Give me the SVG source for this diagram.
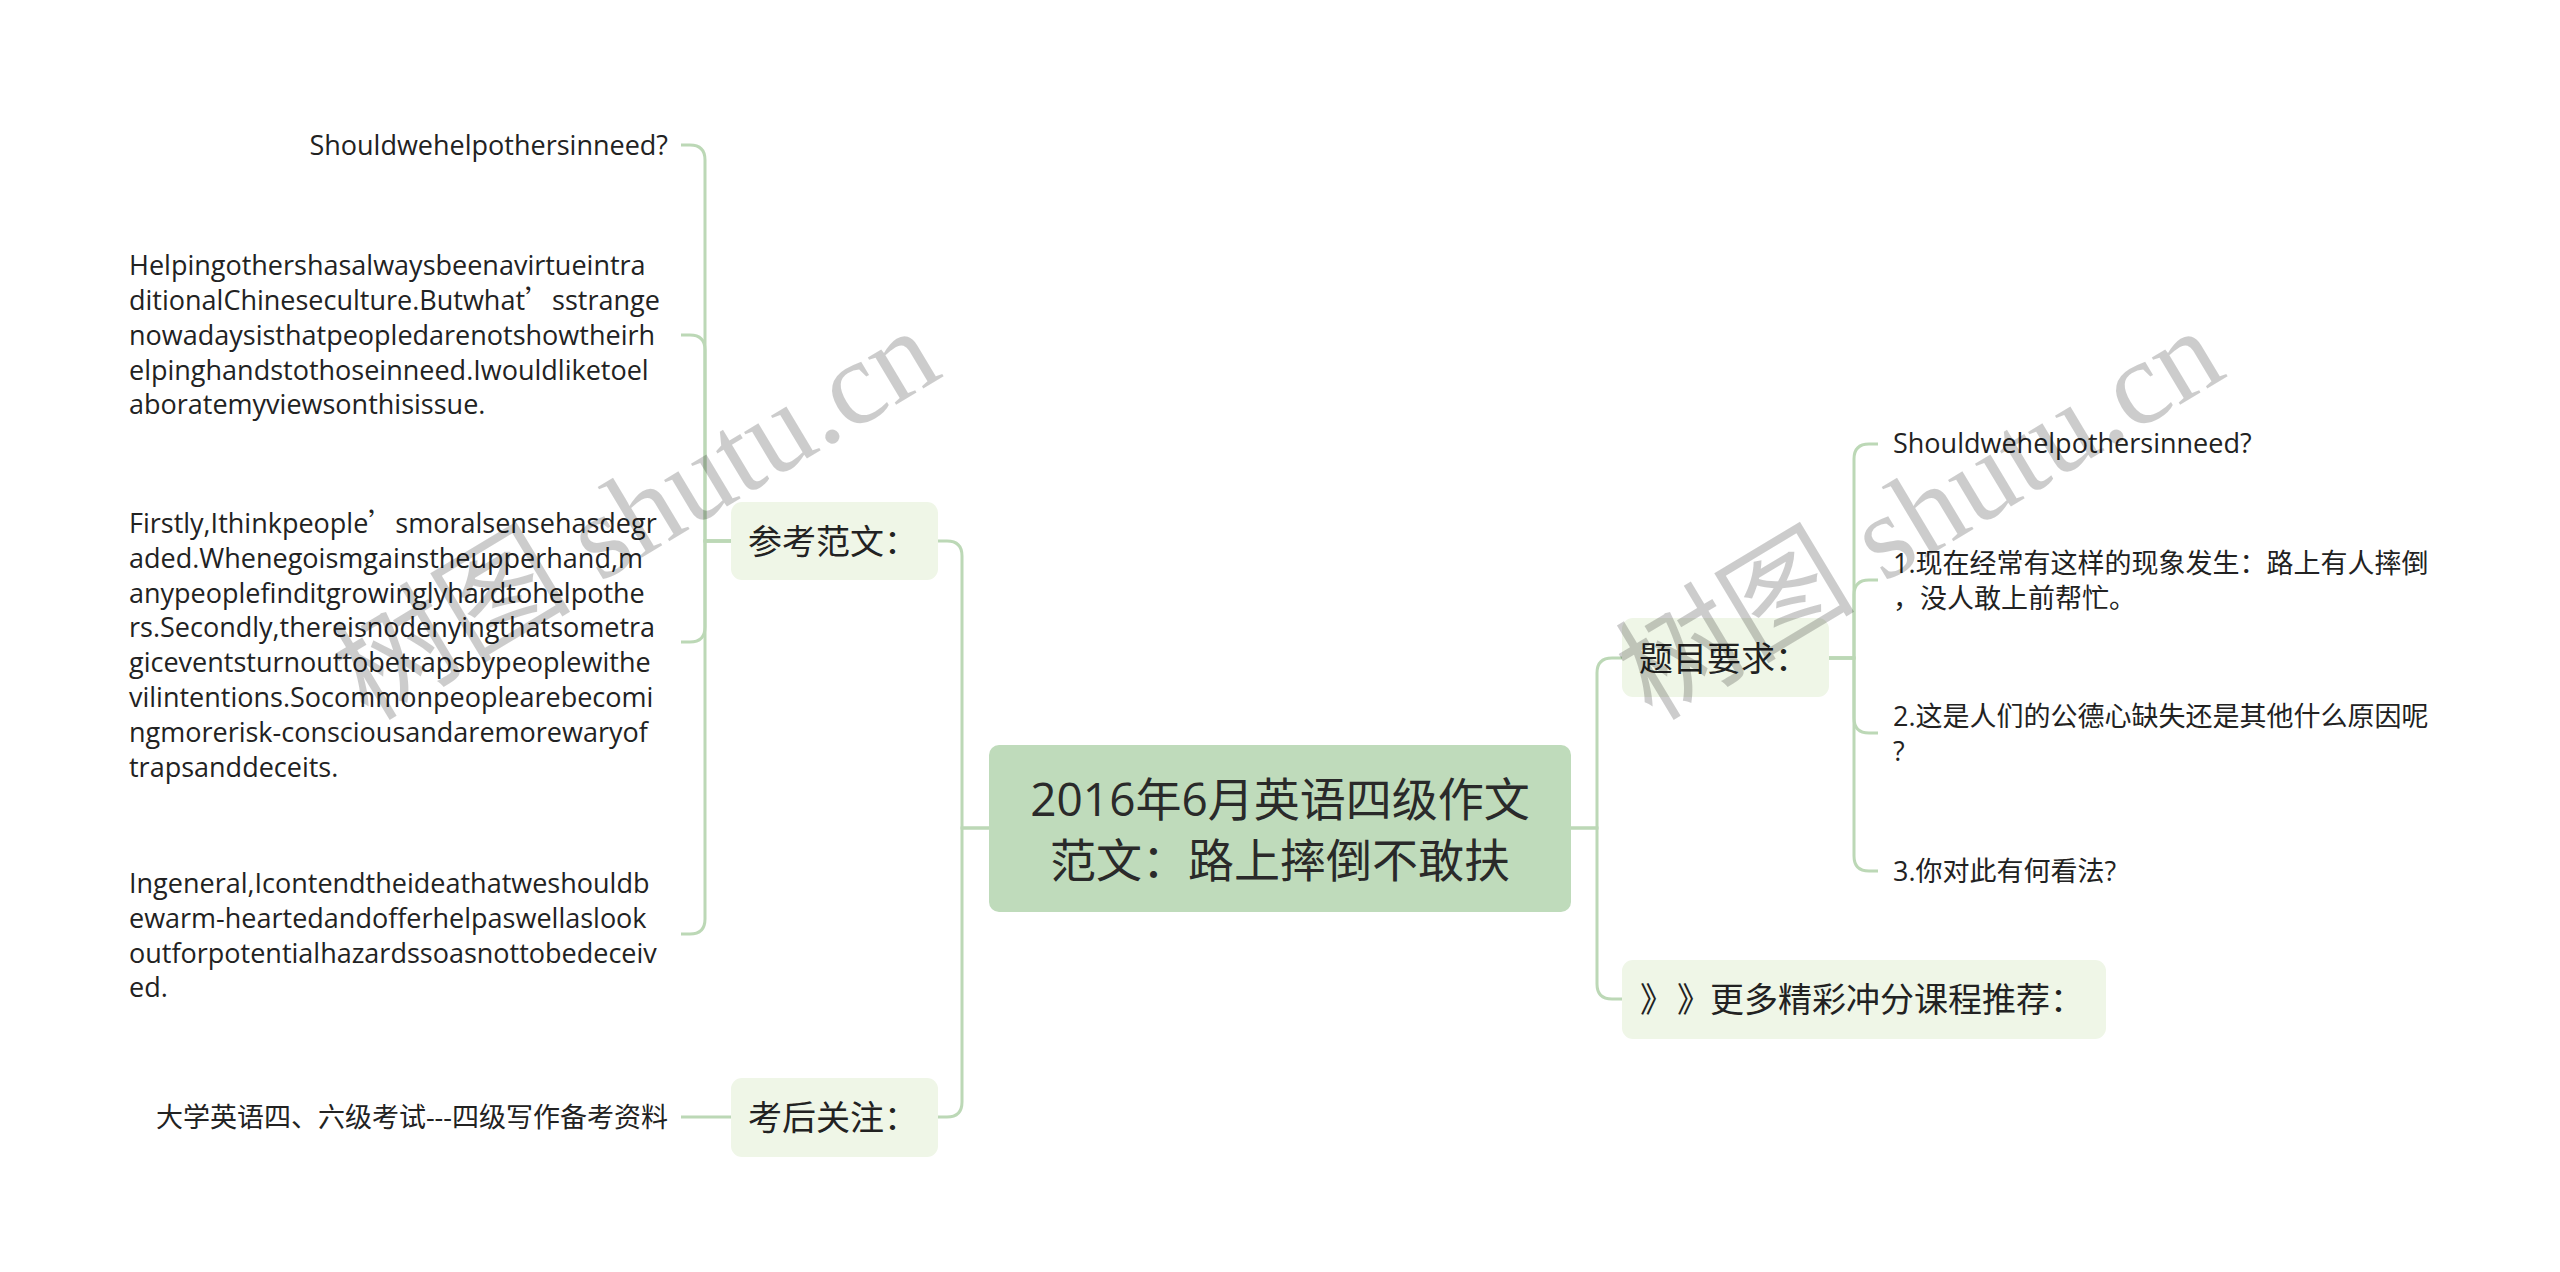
<svg xmlns="http://www.w3.org/2000/svg" width="2560" height="1272" viewBox="0 0 2560 1272">
<style>
.conn{fill:none;stroke:#bcd8b6;stroke-width:3}
.root rect{fill:#bfdbbb}
.l1 rect{fill:#eff6e7}
text{font-family:'Open Sans','Noto Sans CJK SC',sans-serif;fill:#222}
.leaf{font-size:27px}
.l1t{font-size:34px}
.roott{font-size:46px;fill:#2a2a2a}
.cjk{font-family:'Noto Sans CJK SC',sans-serif}
.wm{font-family:'Liberation Serif','Noto Sans CJK SC',serif;font-size:120px;fill:#000;fill-opacity:0.2}
</style>
<rect width="2560" height="1272" fill="#fff"/>
<g id="connectors">
<path class="conn" d="M989 828H962V556Q962 541 947 541H938"/>
<path class="conn" d="M989 828H962V1102Q962 1117 947 1117H938"/>
<path class="conn" d="M1571 828H1597V673Q1597 658 1612 658H1622"/>
<path class="conn" d="M1571 828H1597V984Q1597 999 1612 999H1622"/>
<path class="conn" d="M731 541H705V160Q705 145 690 145H681"/>
<path class="conn" d="M731 541H705V350Q705 335 690 335H681"/>
<path class="conn" d="M731 541H705V627Q705 642 690 642H681"/>
<path class="conn" d="M731 541H705V919Q705 934 690 934H681"/>
<path class="conn" d="M731 1117H681"/>
<path class="conn" d="M1829 658H1854V459Q1854 444 1869 444H1878"/>
<path class="conn" d="M1829 658H1854V595Q1854 580 1869 580H1878"/>
<path class="conn" d="M1829 658H1854V718Q1854 733 1869 733H1878"/>
<path class="conn" d="M1829 658H1854V856Q1854 871 1869 871H1878"/>
</g>
<g id="root" class="root">
<rect x="989" y="745" width="582" height="167" rx="10"/>
<text class="roott" x="1280" y="816" text-anchor="middle">2016年6月英语四级作文</text>
<text class="roott" x="1280" y="877" text-anchor="middle">范文：路上摔倒不敢扶</text>
</g>
<g id="n-cankao" class="l1">
<rect x="731" y="502" width="207" height="78" rx="11"/>
<text class="l1t" x="748" y="554">参考范文：</text>
</g>
<g id="n-kaohou" class="l1">
<rect x="731" y="1078" width="207" height="79" rx="11"/>
<text class="l1t" x="748" y="1130">考后关注：</text>
</g>
<g id="n-timu" class="l1">
<rect x="1622" y="618" width="207" height="79" rx="11"/>
<text class="l1t" x="1639" y="671">题目要求：</text>
</g>
<g id="n-more" class="l1">
<rect x="1622" y="960" width="484" height="79" rx="11"/>
<text class="l1t" y="1012"><tspan x="1640">》</tspan><tspan x="1677">》</tspan><tspan x="1710">更多精彩冲分课程推荐：</tspan></text>
</g>
<g id="n-l-q">
<text class="leaf" x="668" y="155" text-anchor="end">Shouldwehelpothersinneed?</text>
</g>
<g id="n-l-p1">
<text class="leaf" x="129" y="275">Helpingothershasalwaysbeenavirtueintra</text>
<text class="leaf" x="129" y="310">ditionalChineseculture.Butwhat<tspan class="cjk">’</tspan>sstrange</text>
<text class="leaf" x="129" y="345">nowadaysisthatpeopledarenotshowtheirh</text>
<text class="leaf" x="129" y="380">elpinghandstothoseinneed.Iwouldliketoel</text>
<text class="leaf" x="129" y="414">aboratemyviewsonthisissue.</text>
</g>
<g id="n-l-p2">
<text class="leaf" x="129" y="533">Firstly,Ithinkpeople<tspan class="cjk">’</tspan>smoralsensehasdegr</text>
<text class="leaf" x="129" y="568">aded.Whenegoismgainstheupperhand,m</text>
<text class="leaf" x="129" y="603">anypeoplefinditgrowinglyhardtohelpothe</text>
<text class="leaf" x="129" y="637">rs.Secondly,thereisnodenyingthatsometra</text>
<text class="leaf" x="129" y="672">giceventsturnouttobetrapsbypeoplewithe</text>
<text class="leaf" x="129" y="707">vilintentions.Socommonpeoplearebecomi</text>
<text class="leaf" x="129" y="742">ngmorerisk-consciousandaremorewaryof</text>
<text class="leaf" x="129" y="777">trapsanddeceits.</text>
</g>
<g id="n-l-p3">
<text class="leaf" x="129" y="893">Ingeneral,Icontendtheideathatweshouldb</text>
<text class="leaf" x="129" y="928">ewarm-heartedandofferhelpaswellaslook</text>
<text class="leaf" x="129" y="963">outforpotentialhazardssoasnottobedeceiv</text>
<text class="leaf" x="129" y="997">ed.</text>
</g>
<g id="n-l-ref">
<text class="leaf" x="668" y="1127" text-anchor="end">大学英语四、六级考试---四级写作备考资料</text>
</g>
<g id="n-r-q">
<text class="leaf" x="1893" y="453">Shouldwehelpothersinneed?</text>
</g>
<g id="n-r-1">
<text class="leaf" x="1893" y="573">1.现在经常有这样的现象发生：路上有人摔倒</text>
<text class="leaf" x="1893" y="608">，没人敢上前帮忙。</text>
</g>
<g id="n-r-2">
<text class="leaf" x="1893" y="726">2.这是人们的公德心缺失还是其他什么原因呢</text>
<text class="leaf" x="1893" y="761">?</text>
</g>
<g id="n-r-3">
<text class="leaf" x="1893" y="881">3.你对此有何看法?</text>
</g>
<g id="watermark">
<text class="wm" transform="translate(368 722) rotate(-31)">树图 shutu.cn</text>
<text class="wm" transform="translate(1652 722) rotate(-31)">树图 shutu.cn</text>
</g>
</svg>
